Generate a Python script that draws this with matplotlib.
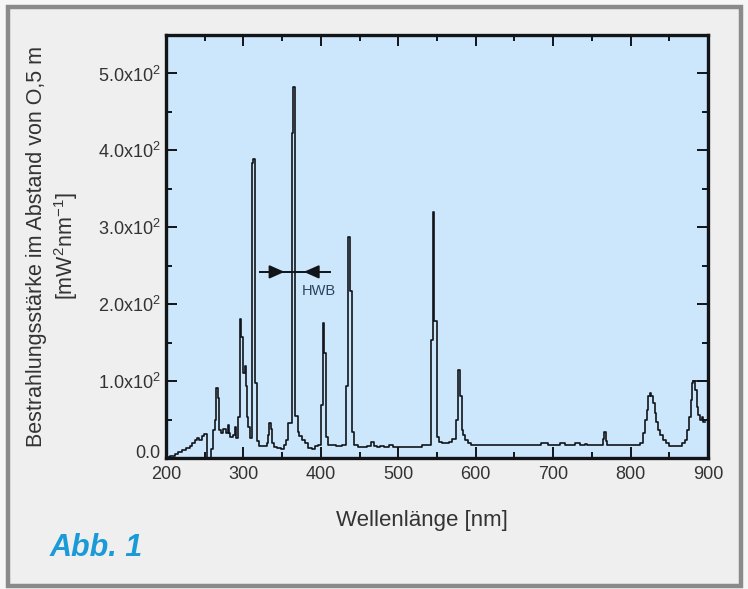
import matplotlib
matplotlib.use("Agg")
import matplotlib.pyplot as plt
from matplotlib.patches import Rectangle
from matplotlib.ticker import FuncFormatter, MultipleLocator
from matplotlib.transforms import ScaledTranslation

# spectrum, stepped: value holds from each wavelength to the next one
wavelength = [
    200, 205, 211, 216, 221, 226, 231, 234, 237, 239.5, 243, 246, 249, 252.5,
    258.5, 261, 263, 265, 267, 268.5, 270.5, 274, 277, 279.5, 281.5, 283, 286,
    288.5, 291, 292.5, 295.5, 297.5, 299, 301.5, 303.5, 305, 306.5, 308.5, 311,
    312.5, 315, 318, 320, 330, 332, 333.5, 335, 336.5, 339, 343, 348, 352, 355,
    358, 362.5, 364.5, 366.5, 370, 372, 376, 380, 383, 388, 392, 396, 400, 403,
    404.5, 406.5, 409, 420, 427, 432, 435.5, 437.5, 440, 443, 448, 460, 465,
    469, 472, 477, 481, 488, 493, 530, 542, 545, 546.5, 549.5, 552, 556, 566,
    570, 574, 577, 580, 582, 584, 586, 590, 594, 684, 693, 709, 715, 728, 735,
    741, 744, 764, 766, 768, 770, 812, 816, 819, 821, 823, 825, 827, 829, 831,
    833, 835, 838, 842, 846, 850, 866, 870, 873, 875.5, 877.5, 879.5, 881,
    883.5, 885.5, 887.5, 889.5, 892, 894, 896,
]
irradiance = [
    1, 3, 5, 8, 10, 13, 15, 19, 23, 26, 23, 28, 31, 0,
    12, 36, 50, 91, 78, 36, 32, 38, 33, 43, 33, 27, 30,
    40, 26, 53, 181, 157, 110, 120, 93, 53, 40, 26, 383,
    389, 97, 22, 16, 20, 30, 46, 38, 20, 14, 13, 12, 17, 24,
    45, 422, 483, 54, 34, 28, 23, 19, 13, 12, 15, 17, 69, 175,
    137, 27, 17, 16, 17, 93, 287, 217, 34, 17, 14, 16, 21,
    16, 14, 16, 14, 17, 14, 17, 154, 320, 178, 27, 21, 19, 21,
    25, 49, 115, 80, 36, 30, 23, 19, 17, 20, 17, 19, 17, 19, 17,
    18, 17, 25, 34, 22, 17, 19, 32, 50, 62, 80, 84, 80, 71, 58,
    47, 36, 30, 23, 19, 16, 19, 23, 36, 53, 75, 97, 100,
    88, 66, 56, 49, 53, 47, 47,
]

# flat cap over the last band
cap_wl = [881, 900]
cap_val = [100, 100]

# half-width marker on the 365 nm line
hwb_span = [322, 412]
hwb_level = 242
hwb_tips = [353, 378]

y_ticks = [0, 100, 200, 300, 400, 500]

plt.rcParams["font.family"] = ["Liberation Sans", "DejaVu Sans"]
plt.rcParams["mathtext.fontset"] = "custom"
plt.rcParams["mathtext.rm"] = "Liberation Sans"
plt.rcParams["mathtext.it"] = "Liberation Sans:italic"
plt.rcParams["mathtext.bf"] = "Liberation Sans:bold"

fig = plt.figure(figsize=(7.48, 5.89), dpi=100, facecolor="#f6f6f6")
W, H = 748, 589

# grey frame round the whole figure
fig.patches.append(Rectangle((8 / W, 1 - 586 / H), 733 / W, 579 / H,
                             transform=fig.transFigure, facecolor="#efefef",
                             edgecolor="#8a8a8a", linewidth=3.2, zorder=-1))

ax = fig.add_axes([166 / W, 1 - 458 / H, 542 / W, 423 / H])
ax.set_facecolor("#cce6fb")

ax.step(wavelength, irradiance, where="post", color="#111418", linewidth=1.2)
ax.plot(cap_wl, cap_val, color="#111418", linewidth=1.2)

# HWB arrows
ax.plot(hwb_span, [hwb_level, hwb_level], color="#111418", linewidth=1.4)
arrow = dict(arrowstyle="-|>,head_length=0.9,head_width=0.4", color="#111418",
             linewidth=1.4, shrinkA=0, shrinkB=0)
ax.annotate("", xy=(hwb_tips[0], hwb_level), xytext=(335, hwb_level), arrowprops=arrow)
ax.annotate("", xy=(hwb_tips[1], hwb_level), xytext=(397, hwb_level), arrowprops=arrow)
ax.text(398, hwb_level - 25, "HWB", fontsize=10.5, color="#2c4660",
        ha="center", va="center")

ax.set_xlim(200, 900)
ax.set_ylim(0, 550)
ax.xaxis.set_major_locator(MultipleLocator(100))
ax.xaxis.set_minor_locator(MultipleLocator(50))
ax.set_yticks(y_ticks)
ax.yaxis.set_minor_locator(MultipleLocator(50))
ax.yaxis.set_major_formatter(FuncFormatter(
    lambda v, pos: "0.0" if v == 0 else f"{v / 100:.1f}x10$^2$"))

ax.tick_params(which="both", direction="in", top=True, right=True,
               labelsize=13, colors="#111418", labelcolor="#333333", pad=4)
ax.tick_params(axis="x", which="both", pad=6)
ax.tick_params(which="major", length=8, width=1.4)
ax.tick_params(which="minor", length=4.5, width=1.4)
for spine in ax.spines.values():
    spine.set_linewidth(2.4)
    spine.set_color("#111418")

# lift the zero label clear of the first x label
fig.canvas.draw()
zero_label = ax.get_yticklabels()[0]
zero_label.set_transform(zero_label.get_transform()
                         + ScaledTranslation(0, 5 / 72, fig.dpi_scale_trans))

ax.set_xlabel("Wellenlänge [nm]", fontsize=16, color="#333333")
ax.xaxis.set_label_coords(0.472, -0.122)
ax.set_ylabel("Bestrahlungsstärke im Abstand von O,5 m\n[mW$^2$nm$^{-1}$]",
              fontsize=15.5, color="#333333", linespacing=1.25)
ax.yaxis.set_label_coords(-0.158, 0.5)

fig.text(50 / W, 1 - 548 / H, "Abb. 1", fontsize=22, fontweight="bold",
         fontstyle="italic", color="#1b9ad8", ha="left", va="center")

fig.savefig("out.png", dpi=100, facecolor=fig.get_facecolor())
